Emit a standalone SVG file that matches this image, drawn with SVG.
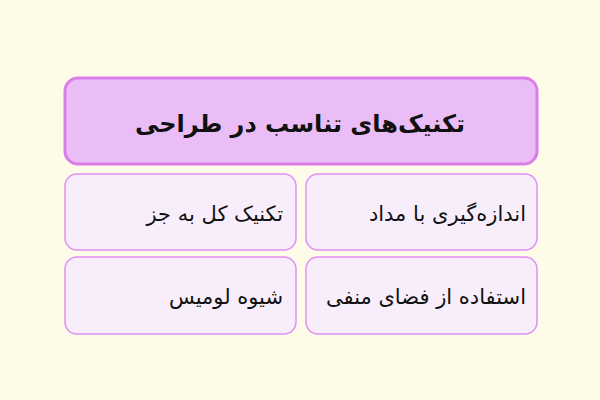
<svg xmlns="http://www.w3.org/2000/svg" width="600" height="400" viewBox="0 0 600 400">
<style>
.t{font-family:"DejaVu Sans","Noto Sans",sans-serif;fill:#111;direction:rtl}
.card{fill:#f8eefb;stroke:#e28ef2;stroke-width:1.5}
.sub{font-size:21px;text-anchor:start}
</style>
<rect width="600" height="400" fill="#fefce9"/>
<g id="title">
<rect x="65" y="78" width="472" height="86" rx="13" fill="#ebbdf6" stroke="#d97ee9" stroke-width="3"/>
<text class="t" x="300" y="132" font-size="24" font-weight="bold" text-anchor="middle">تکنیک‌های تناسب در طراحی</text>
</g>
<g id="n1">
<rect class="card" x="306" y="174" width="231" height="76" rx="12"/>
<text class="t sub" x="526" y="221">اندازه‌گیری با مداد</text>
</g>
<g id="n2">
<rect class="card" x="65" y="174" width="231" height="76" rx="12"/>
<text class="t sub" x="283" y="221">تکنیک کل به جز</text>
</g>
<g id="n3">
<rect class="card" x="306" y="257" width="231" height="77" rx="12"/>
<text class="t sub" x="526" y="304">استفاده از فضای منفی</text>
</g>
<g id="n4">
<rect class="card" x="65" y="257" width="231" height="77" rx="12"/>
<text class="t sub" x="283" y="304">شیوه لومیس</text>
</g>
<g id="connectors"/>
</svg>
